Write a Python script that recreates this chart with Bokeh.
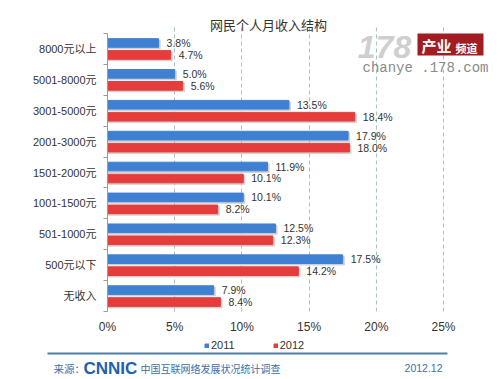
from bokeh.plotting import figure
from bokeh.models import (ColumnDataSource, Range1d, FixedTicker, Label, Legend,
                          LegendItem, BoxAnnotation)
from bokeh.transform import dodge
from bokeh.embed import file_html
from bokeh.resources import INLINE

# ---------------- data ----------------
categories = ["8000元以上", "5001-8000元", "3001-5000元", "2001-3000元",
              "1501-2000元", "1001-1500元", "501-1000元", "500元以下", "无收入"]
values_2011 = [3.8, 5.0, 13.5, 17.9, 11.9, 10.1, 12.5, 17.5, 7.9]
values_2012 = [4.7, 5.6, 18.4, 18.0, 10.1, 8.2, 12.3, 14.2, 8.4]
series_names = ["2011", "2012"]
x_ticks = [0, 5, 10, 15, 20, 25]
title_text = "网民个人月收入结构"
source_prefix = "来源："
source_logo = "CNNIC"
source_name = "中国互联网络发展状况统计调查"
source_date = "2012.12"

BLUE = "#3f80d3"
RED = "#e53c3c"
SHADOW = "#c4c4c4"
TXT = "#333333"
FONT = "Liberation Sans, Noto Sans CJK SC"
CJK = "Noto Sans CJK SC"
FOOT = "#3d6ea8"

W, HGT = 500, 379
n = len(categories)
ypos = [n - i - 0.5 for i in range(n)]
src = ColumnDataSource(dict(
    y=ypos,
    v11=values_2011,
    v12=values_2012,
    s11=[v + 0.12 for v in values_2011],
    s12=[v + 0.12 for v in values_2012],
    l11=[f"{v:.1f}%" for v in values_2011],
    l12=[f"{v:.1f}%" for v in values_2012],
))

# The frame spans the whole canvas; axes are drawn at fixed locations.
# 0% at x=107px, 25% at x=443px; category band 0..9 spans y=311px..33px (from top)
PX_X = (443 - 107) / 25.0
PX_Y = (311 - 33) / float(n)
x_range = Range1d(-107 / PX_X, (W - 107) / PX_X)
y_range = Range1d(-(HGT - 311) / PX_Y, 311 / PX_Y)

p = figure(width=W, height=HGT, output_backend="svg", toolbar_location=None,
           x_range=x_range, y_range=y_range, min_border=0)
p.outline_line_color = None
p.background_fill_color = "white"
p.border_fill_color = "white"

OFF = 0.194
H = 0.28
p.hbar(y=dodge("y", OFF - 0.05), left=0, right="s11", height=H,
       color=SHADOW, alpha=0.7, source=src)
p.hbar(y=dodge("y", -OFF - 0.05), left=0, right="s12", height=H,
       color=SHADOW, alpha=0.7, source=src)
r11 = p.hbar(y=dodge("y", OFF), left=0, right="v11", height=H,
             color=BLUE, source=src)
r12 = p.hbar(y=dodge("y", -OFF), left=0, right="v12", height=H,
             color=RED, source=src)

p.text(x="v11", y=dodge("y", OFF), text="l11", source=src,
       x_offset=8, text_baseline="middle", text_align="left",
       text_font_size="10.5px", text_color=TXT, text_font={"value": FONT})
p.text(x="v12", y=dodge("y", -OFF), text="l12", source=src,
       x_offset=8, text_baseline="middle", text_align="left",
       text_font_size="10.5px", text_color=TXT, text_font={"value": FONT})

# axes
xa = p.xaxis[0]
xa.fixed_location = 0
xa.ticker = FixedTicker(ticks=x_ticks)
xa.major_label_overrides = {t: f"{t}%" for t in x_ticks}
xa.axis_line_color = None
xa.major_tick_line_color = None
xa.minor_tick_line_color = None
xa.major_tick_out = 0
xa.major_label_standoff = 8
xa.major_label_text_font_size = "12px"
xa.major_label_text_color = TXT
xa.major_label_text_font = FONT

ya = p.yaxis[0]
ya.fixed_location = 0
ya.ticker = FixedTicker(ticks=ypos, minor_ticks=list(range(n + 1)))
ya.major_label_overrides = {y: c for y, c in zip(ypos, categories)}
ya.bounds = (0, n)
ya.axis_line_color = "#9a9a9a"
ya.major_tick_line_color = None
ya.major_tick_out = 0
ya.minor_tick_line_color = "#9a9a9a"
ya.minor_tick_out = 4
ya.minor_tick_in = 0
ya.major_label_standoff = 7
ya.major_label_text_font_size = "11px"
ya.major_label_text_color = TXT
ya.major_label_text_font = FONT

p.ygrid.grid_line_color = None
grid_ok = True
try:
    p.xgrid[0].cross_bounds = (0, n + 0.2)
except Exception:
    grid_ok = False
if grid_ok:
    p.xgrid.ticker = FixedTicker(ticks=x_ticks[1:])
    p.xgrid.grid_line_color = "#a7c3c3"
    p.xgrid.grid_line_dash = "4 3"
else:
    p.xgrid.grid_line_color = None
    p.segment(x0=x_ticks[1:], x1=x_ticks[1:], y0=[0] * 5, y1=[n + 0.2] * 5,
              line_color="#a7c3c3", line_dash="4 3", level="underlay")

def lab(x, y, text, **kw):
    p.add_layout(Label(x=x, y=HGT - y, x_units="screen", y_units="screen",
                       text=text, text_baseline="middle", **kw))

# title
lab(268, 24, title_text, text_align="center", text_font_size="13px",
    text_color=TXT, text_font=CJK)

# 178 watermark logo (approximation)
lab(384, 46, "178", text_align="center", text_font_size="32px",
    text_font_style="bold italic", text_color="#cfcfcf", text_font="Liberation Sans")
p.add_layout(BoxAnnotation(left=417, right=483, bottom=HGT - 55, top=HGT - 33,
                           left_units="screen", right_units="screen",
                           bottom_units="screen", top_units="screen",
                           fill_color="#a21d22", fill_alpha=1, line_color=None))
lab(421, 45, "产业", text_font_size="15px", text_font_style="bold",
    text_color="white", text_font=CJK)
lab(455, 47, "频道", text_font_size="11px", text_font_style="bold",
    text_color="white", text_font=CJK)
lab(362, 67, "chanye .178.com", text_font_size="14px", text_color="#8a8a8a",
    text_font="Liberation Mono")

# legend
legend = Legend(items=[LegendItem(label=series_names[0], renderers=[r11]),
                       LegendItem(label=series_names[1], renderers=[r12])],
                orientation="horizontal", location=(204, HGT - 351),
                glyph_width=5, glyph_height=5, label_standoff=2, spacing=38,
                label_height=12, padding=0, margin=0, border_line_color=None,
                background_fill_alpha=0, label_text_font_size="11px",
                label_text_color=TXT, label_text_font=FONT)
p.add_layout(legend, "center")

# footer
p.add_layout(BoxAnnotation(left=47, right=447, bottom=HGT - 354, top=HGT - 352,
                           left_units="screen", right_units="screen",
                           bottom_units="screen", top_units="screen",
                           fill_color="#4f7fa6", fill_alpha=1, line_color=None))
lab(53, 367.5, source_prefix, text_font_size="10.5px", text_color=FOOT, text_font=CJK)
lab(83, 367.5, source_logo, text_font_size="17px", text_color="#1e5fb4",
    text_font="Liberation Sans", text_font_style="bold")
lab(140, 367.5, source_name, text_font_size="10px", text_color=FOOT, text_font=CJK)
lab(442, 367.5, source_date, text_align="right", text_font_size="10.5px",
    text_color=FOOT, text_font="Liberation Sans")

open("out.html", "w").write(file_html(p, INLINE))
